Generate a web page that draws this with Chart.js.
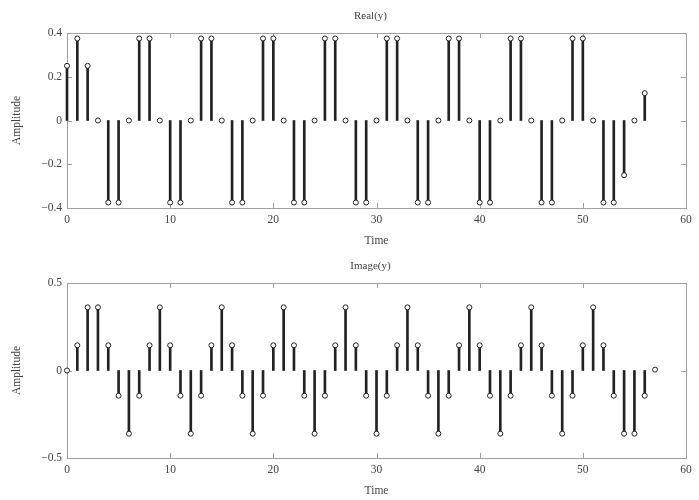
<!DOCTYPE html>
<html>
<head>
<meta charset="utf-8">
<script src="https://cdn.jsdelivr.net/npm/chart.js@4/dist/chart.umd.min.js"></script>
<style>
  body { margin: 0; background: #fff; }
  .panel { position: absolute; left: 0; width: 699px; height: 250px; }
</style>
</head>
<body>
<div class="panel" style="top:0"><canvas id="realChart" width="699" height="250"></canvas></div>
<div class="panel" style="top:250px"><canvas id="imagChart" width="699" height="250"></canvas></div>
<script>
// sample index n
const time = [0, 1, 2, 3, 4, 5, 6, 7, 8, 9, 10, 11, 12, 13, 14, 15, 16, 17, 18, 19,
  20, 21, 22, 23, 24, 25, 26, 27, 28, 29, 30, 31, 32, 33, 34, 35, 36, 37, 38, 39,
  40, 41, 42, 43, 44, 45, 46, 47, 48, 49, 50, 51, 52, 53, 54, 55, 56, 57]

// Real(y), n = 0..56
const realY = [0.25, 0.375, 0.25, 0, -0.375, -0.375, 0, 0.375, 0.375, 0,
  -0.375, -0.375, 0, 0.375, 0.375, 0, -0.375, -0.375, 0, 0.375,
  0.375, 0, -0.375, -0.375, 0, 0.375, 0.375, 0, -0.375, -0.375,
  0, 0.375, 0.375, 0, -0.375, -0.375, 0, 0.375, 0.375, 0,
  -0.375, -0.375, 0, 0.375, 0.375, 0, -0.375, -0.375, 0, 0.375,
  0.375, 0, -0.375, -0.375, -0.25, 0, 0.125]

// Image(y), n = 0..57
const imagY = [0, 0.144, 0.361, 0.361, 0.144, -0.144, -0.361, -0.144, 0.144, 0.361,
  0.144, -0.144, -0.361, -0.144, 0.144, 0.361, 0.144, -0.144, -0.361, -0.144,
  0.144, 0.361, 0.144, -0.144, -0.361, -0.144, 0.144, 0.361, 0.144, -0.144,
  -0.361, -0.144, 0.144, 0.361, 0.144, -0.144, -0.361, -0.144, 0.144, 0.361,
  0.144, -0.144, -0.361, -0.144, 0.144, 0.361, 0.144, -0.144, -0.361, -0.144,
  0.144, 0.361, 0.144, -0.144, -0.361, -0.361, -0.144, 0.005]

const realTicks = [-0.4, -0.2, 0, 0.2, 0.4]
const imagTicks = [-0.5, 0, 0.5]
const timeTicks = [0, 10, 20, 30, 40, 50, 60]

const serif = "'Liberation Serif', 'DejaVu Serif', serif"
const textColor = '#444'

// box round the axes, little inward ticks and the title, matlab style
const frame = {
  id: 'frame',
  beforeDatasetsDraw(chart, args, opts) {
    const {ctx, chartArea: a, scales: {x, y}} = chart
    ctx.save()
    ctx.strokeStyle = '#a0a0a0'
    ctx.lineWidth = 1
    ctx.strokeRect(Math.round(a.left) + 0.5, Math.round(a.top) + 0.5, Math.round(a.width), Math.round(a.height))
    ctx.beginPath()
    x.ticks.forEach(t => {
      const px = Math.round(x.getPixelForValue(t.value)) + 0.5
      ctx.moveTo(px, a.bottom); ctx.lineTo(px, a.bottom - 5)
      ctx.moveTo(px, a.top); ctx.lineTo(px, a.top + 5)
    })
    y.ticks.forEach(t => {
      const py = Math.round(y.getPixelForValue(t.value)) + 0.5
      ctx.moveTo(a.left, py); ctx.lineTo(a.left + 5, py)
      ctx.moveTo(a.right, py); ctx.lineTo(a.right - 5, py)
    })
    ctx.stroke()
    ctx.fillStyle = textColor
    ctx.font = '11px ' + serif
    ctx.textAlign = 'center'
    ctx.textBaseline = 'middle'
    ctx.fillText(opts.title, (a.left + a.right) / 2 - 6, opts.titleY)
    ctx.restore()
  }
}

const minus = v => String(v).replace('-', '\u2212')

function stemChart(id, title, values, yTicks) {
  const stems = values.map((v, i) => ({x: time[i], y: [0, v]}))
  const marks = values.map((v, i) => ({x: time[i], y: v}))
  const yMin = yTicks[0], yMax = yTicks[yTicks.length - 1]
  const font = {family: serif, size: 11.5}
  return new Chart(document.getElementById(id), {
    type: 'bar',
    data: {
      datasets: [
        {
          type: 'scatter',
          data: marks,
          pointRadius: 2.5,
          pointBackgroundColor: '#fff',
          pointBorderColor: '#222',
          pointBorderWidth: 1,
          clip: false,
          order: 0
        },
        {
          data: stems,
          backgroundColor: '#222',
          barThickness: 2,
          clip: false,
          order: 1
        }
      ]
    },
    options: {
      responsive: false,
      animation: false,
      devicePixelRatio: 1,
      layout: {padding: {left: 0, right: 13, top: 33, bottom: 0}},
      plugins: {
        legend: {display: false},
        tooltip: {enabled: false},
        frame: {title: title, titleY: 16}
      },
      scales: {
        x: {
          type: 'linear',
          min: 0, max: 60,
          offset: false,
          grid: {display: false, drawTicks: false, offset: false},
          border: {display: false},
          afterBuildTicks: s => { s.ticks = timeTicks.map(v => ({value: v})) },
          ticks: {color: textColor, font: font, padding: 5, maxRotation: 0},
          title: {display: true, text: 'Time', color: textColor, font: font, padding: {top: 3, bottom: 2}},
          afterFit: s => { s.height = 42 }
        },
        y: {
          min: yMin, max: yMax,
          grid: {display: false, drawTicks: false},
          border: {display: false},
          afterBuildTicks: s => { s.ticks = yTicks.map(v => ({value: v})) },
          ticks: {color: textColor, font: font, padding: 5, callback: v => minus(v)},
          title: {display: true, text: 'Amplitude', color: textColor, font: font, padding: {top: 10, bottom: 4}},
          afterFit: s => { s.width = 67 }
        }
      }
    },
    plugins: [frame]
  })
}

stemChart('realChart', 'Real(y)', realY, realTicks)
stemChart('imagChart', 'Image(y)', imagY, imagTicks)
</script>
</body>
</html>
